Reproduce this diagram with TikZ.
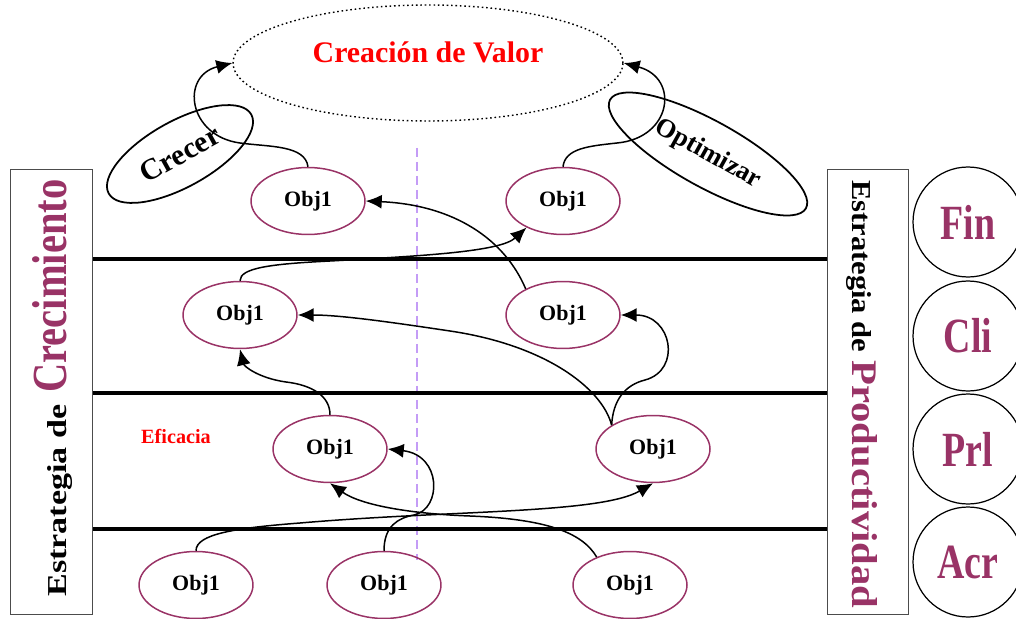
\documentclass[tikz,border=0pt]{standalone}
\usepackage{fontspec}
\setmainfont{Liberation Serif}
\usepackage{graphicx}
\usetikzlibrary{shapes.geometric,arrows.meta}
\definecolor{plum}{HTML}{993366}
\definecolor{lav}{HTML}{C49CF6}
\definecolor{vred}{HTML}{FF0000}

\begin{document}
\begin{tikzpicture}[x=0.02cm,y=-0.02cm,
  obj/.style={ellipse,draw=plum,line width=0.85pt,minimum width=2.28cm,
    minimum height=1.34cm,inner sep=0pt,font=\bfseries\fontsize{12.5}{14}\selectfont},
  link/.style={line width=0.85pt,-{Latex[length=0.32cm,width=0.28cm]}},
  sepline/.style={line width=2.8pt},
  tagbox/.style={ellipse,draw,line width=1pt,minimum height=1.32cm,inner sep=0pt,
    font=\bfseries\fontsize{17}{19}\selectfont},
  persp/.style={circle,draw,line width=0.7pt,minimum size=2.2cm,inner sep=0pt,
    text=plum,font=\bfseries\fontsize{28}{30}\selectfont},
  sidebox/.style={draw=black!70,line width=0.7pt,minimum height=8.9cm,inner sep=0pt,
    anchor=north west}
]
\useasboundingbox (0,0) rectangle (1016,618);

% side frames
\node[sidebox,minimum width=1.64cm] (lbox) at (10,169) {};
\node[sidebox,minimum width=1.62cm] (rbox) at (827,169) {};

\node[rotate=90,anchor=base west,inner sep=0pt] (ltxt) at (66,597)
  {\resizebox{3.84cm}{0.38cm}{\bfseries Estrategia de}\hspace{0.24cm}%
   \resizebox{4.26cm}{0.68cm}{\color{plum}\bfseries Crecimiento}};
\node[rotate=-90,anchor=base west,inner sep=0pt] (rtxt) at (852,180)
  {\resizebox{3.44cm}{0.38cm}{\bfseries Estrategia de}\hspace{0.16cm}%
   \resizebox{4.96cm}{0.5cm}{\color{plum}\bfseries Productividad}};

% perspective circles
\node[persp] (fin) at (968,222) {\scalebox{0.77}[1]{Fin}};
\node[persp] (cli) at (968,336) {\scalebox{0.77}[1]{Cli}};
\node[persp] (prl) at (968,449) {\scalebox{0.77}[1]{Prl}};
\node[persp] (acr) at (968,562) {\scalebox{0.77}[1]{Acr}};

% central axis
\coordinate (axtop) at (417,148);
\coordinate (axbot) at (417,560);
\draw[lav,line width=1.3pt,dash pattern=on 0.18cm off 0.1cm] (axtop) -- (axbot);

% level separators
\coordinate (y1) at (0,259);
\coordinate (y2) at (0,393);
\coordinate (y3) at (0,529);
\foreach \y in {y1,y2,y3}
  \draw[sepline] (lbox.east |- \y) -- (rbox.west |- \y);

% value
\node[ellipse,draw,line width=0.8pt,dash pattern=on 0.9pt off 1.6pt,
  minimum width=7.8cm,minimum height=2.32cm] (valor) at (428,63) {};
\node[text=vred,font=\bfseries\fontsize{17}{20}\selectfont] (valtxt) at (428,52)
  {Creación de Valor};

% strategy tags
\node[tagbox,minimum width=3.26cm,rotate=29] (crecer) at (180,154) {Crecer};
\node[tagbox,minimum width=4.48cm,rotate=-29,font=\bfseries\fontsize{15}{17}\selectfont]
  (optim) at (708,154) {Optimizar};

\node[text=vred,font=\bfseries\fontsize{11.5}{13}\selectfont] (efic) at (176,436) {Eficacia};

% objectives
\node[obj] (o11) at (308,201) {Obj1};
\node[obj] (o12) at (563,201) {Obj1};
\node[obj] (o21) at (240,315) {Obj1};
\node[obj] (o22) at (563,315) {Obj1};
\node[obj] (o31) at (330,449) {Obj1};
\node[obj] (o32) at (653,449) {Obj1};
\node[obj] (o41) at (196,585) {Obj1};
\node[obj] (o42) at (384,585) {Obj1};
\node[obj] (o43) at (630,585) {Obj1};

% cause-effect links
\draw[link] (o11.north) .. controls (305,145) and (270,147) .. (240,143)
  .. controls (188,136) and (180,76) .. (valor.west);
\draw[link] (o12.north) .. controls (565,148) and (590,146) .. (617,143)
  .. controls (672,138) and (680,78) .. (valor.east);
\draw[link] (o22.145) .. controls (505,240) and (455,205) .. (o11.east);
\draw[link] (o21.north) .. controls (240,268) and (270,264) .. (330,261)
  .. controls (420,256) and (500,252) .. (o12.216);
\draw[link] (o32.150) .. controls (602,388) and (545,345) .. (450,331)
  .. controls (390,322) and (340,315) .. (o21.east);
\draw[link] (o32.150) .. controls (613,400) and (625,385) .. (645,380)
  .. controls (682,370) and (672,315) .. (o22.east);
\draw[link] (o31.north) .. controls (330,396) and (312,385) .. (286,382)
  .. controls (258,378) and (244,366) .. (o21.south);
\draw[link] (o41.north) .. controls (196,534) and (235,528) .. (300,523)
  .. controls (450,510) and (600,514) .. (o32.south);
\draw[link] (o42.north) .. controls (384,526) and (398,518) .. (414,515)
  .. controls (442,509) and (442,455) .. (o31.east);
\draw[link] (o43.140) .. controls (582,532) and (545,519) .. (470,516)
  .. controls (415,514) and (362,506) .. (o31.south);
\end{tikzpicture}
\end{document}
